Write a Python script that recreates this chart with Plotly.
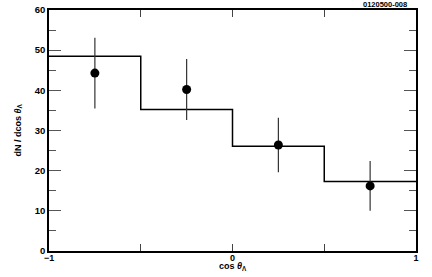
import plotly.graph_objects as go

bin_edges = [-1.0, -0.5, 0.0, 0.5, 1.0]
hist_values = [48.5, 35.2, 26.1, 17.3]
point_x = [-0.75, -0.25, 0.25, 0.75]
point_y = [44.3, 40.2, 26.4, 16.2]
point_err = [8.8, 7.6, 6.8, 6.2]
x_tickvals = [-1, 0, 1]
x_ticktext = ["\u22121", "0", "1"]
x_minor_tickvals = [-0.5, 0.5]
y_tickvals = [0, 10, 20, 30, 40, 50, 60]

fig = go.Figure()
fig.add_trace(go.Scatter(
    x=bin_edges, y=hist_values + [hist_values[-1]],
    mode="lines", line=dict(shape="hv", color="black", width=1.5),
    hoverinfo="skip", showlegend=False))
fig.add_trace(go.Scatter(
    x=point_x, y=point_y, mode="markers",
    marker=dict(symbol="circle", size=9, color="black"),
    error_y=dict(type="data", array=point_err, width=0, thickness=1.2, color="#333"),
    showlegend=False))

font = "Liberation Sans, Arial, sans-serif"
fig.update_layout(
    width=432, height=277,
    margin=dict(l=49, r=16, t=10, b=26),
    plot_bgcolor="white", paper_bgcolor="white",
    font=dict(family=font, color="black"),
    xaxis=dict(range=[-1, 1], tickvals=x_tickvals, ticktext=x_ticktext, automargin=False,
               ticks="inside", ticklen=7, tickwidth=1, tickcolor="#444",
               minor=dict(tickvals=x_minor_tickvals, ticks="inside", ticklen=7,
                          tickwidth=1, tickcolor="#444"),
               showline=True, linecolor="black", linewidth=1.5, mirror="allticks",
               showgrid=False, zeroline=False, ticklabelstandoff=-3,
               tickfont=dict(size=9, family=font, weight="bold")),
    yaxis=dict(range=[0, 60], tickvals=y_tickvals, automargin=False,
               ticks="inside", ticklen=12, tickwidth=1, tickcolor="#555",
               minor=dict(dtick=5, ticks="inside", ticklen=7, tickcolor="#555"),
               showline=True, linecolor="black", linewidth=1.5, mirror="allticks",
               showgrid=False, zeroline=False,
               tickfont=dict(size=9.5, family=font, weight="bold")),
    annotations=[
        dict(text="0120500-008", xref="paper", yref="paper", x=1, y=1.0,
             xanchor="right", yanchor="bottom", showarrow=False, yshift=-1, xshift=-7,
             font=dict(size=7.5, family=font, weight="bold")),
        dict(text="cos <i>θ</i><sub>Λ</sub>", xref="paper", yref="paper", x=0.5, y=0,
             xanchor="center", yanchor="top", showarrow=False, yshift=-8,
             font=dict(size=9, family=font, weight="bold")),
        dict(text="dN / dcos <i>θ</i><sub>Λ</sub>", xref="paper", yref="paper", x=0, y=0.5,
             xanchor="center", yanchor="middle", showarrow=False, xshift=-31, textangle=-90,
             font=dict(size=9, family=font, weight="bold")),
    ],
)
fig.write_html("out.html", config={"displayModeBar": False},
               post_script="document.body.style.margin='0';document.body.style.overflow='hidden';")
